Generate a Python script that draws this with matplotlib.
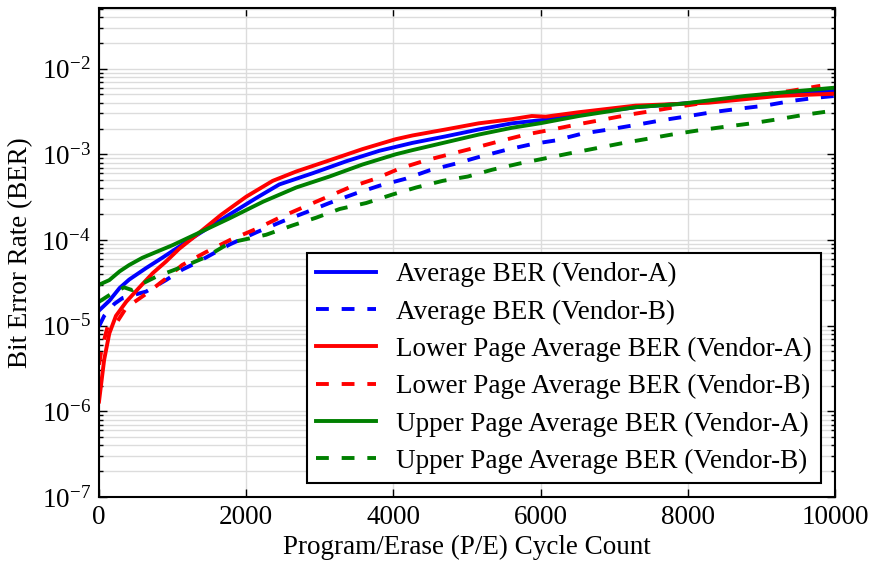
import matplotlib
matplotlib.use('Agg')
import matplotlib.pyplot as plt
from matplotlib.ticker import LogLocator, NullFormatter, MultipleLocator

plt.rcParams['font.family'] = ['Liberation Serif', 'DejaVu Serif']
plt.rcParams['mathtext.fontset'] = 'custom'
plt.rcParams['mathtext.rm'] = 'Liberation Serif'
plt.rcParams['mathtext.it'] = 'Liberation Serif:italic'
plt.rcParams['mathtext.bf'] = 'Liberation Serif:bold'

# average BER per P/E cycle count
avg_a_pe = [0, 140, 280, 410, 640, 860, 1300, 1780, 2140, 2450, 2900, 3360, 3810,
            4260, 4710, 5160, 5610, 6000, 6500, 7300, 8300, 9200, 10000]
avg_a_ber = [1.5e-5, 1.95e-5, 2.75e-5, 3.45e-5, 4.7e-5, 6.2e-5, 1.1e-4, 2.0e-4, 3.1e-4,
             4.45e-4, 6.0e-4, 8.3e-4, 1.1e-3, 1.36e-3, 1.62e-3, 1.95e-3, 2.3e-3, 2.5e-3,
             2.9e-3, 3.55e-3, 4.15e-3, 4.9e-3, 5.5e-3]

avg_b_pe = [0, 70, 210, 320, 640, 910, 1130, 1320, 1780, 2140, 2500, 2810, 3130, 3490,
            3810, 4170, 4490, 4850, 5160, 5520, 5890, 6200, 6560, 6930, 7290, 7650, 7960,
            8330, 8690, 9050, 9410, 9770, 10000]
avg_b_ber = [9.8e-6, 1.3e-5, 1.8e-5, 2.1e-5, 2.5e-5, 3.4e-5, 4.5e-5, 5.4e-5, 8.9e-5,
             1.23e-4, 1.66e-4, 2.1e-4, 2.7e-4, 3.5e-4, 4.3e-4, 5.2e-4, 6.5e-4, 7.8e-4,
             9.3e-4, 1.12e-3, 1.32e-3, 1.45e-3, 1.74e-3, 1.95e-3, 2.2e-3, 2.5e-3, 2.75e-3,
             3.1e-3, 3.4e-3, 3.7e-3, 4.2e-3, 4.6e-3, 4.8e-3]

lower_a_pe = [0, 70, 140, 230, 370, 550, 730, 910, 1090, 1300, 1660, 2000, 2360, 2680,
              3130, 3580, 4030, 4260, 4710, 5160, 5610, 5880, 6070, 6520, 7290, 8280,
              9230, 10000]
lower_a_ber = [1.3e-6, 4.0e-6, 8.1e-6, 1.3e-5, 1.9e-5, 2.8e-5, 4.1e-5, 5.6e-5, 7.9e-5,
               1.1e-4, 1.97e-4, 3.2e-4, 4.9e-4, 6.3e-4, 8.5e-4, 1.15e-3, 1.5e-3, 1.66e-3,
               1.95e-3, 2.3e-3, 2.57e-3, 2.8e-3, 2.75e-3, 3.1e-3, 3.7e-3, 4.0e-3, 4.8e-3,
               5.1e-3]

lower_b_pe = [0, 30, 120, 250, 370, 640, 910, 1130, 1450, 1780, 2140, 2450, 2770, 3090,
              3400, 3760, 4080, 4440, 4800, 5120, 5480, 5800, 6160, 6520, 6860, 7200, 7560,
              7870, 8240, 8800, 9400, 9800]
lower_b_ber = [3.5e-6, 5.0e-6, 1.0e-5, 1.12e-5, 1.62e-5, 2.35e-5, 3.55e-5, 5.1e-5, 7.2e-5,
               1.0e-4, 1.35e-4, 1.82e-4, 2.4e-4, 3.15e-4, 4.1e-4, 5.2e-4, 6.8e-4, 8.5e-4,
               1.02e-3, 1.2e-3, 1.45e-3, 1.7e-3, 1.95e-3, 2.25e-3, 2.55e-3, 2.9e-3,
               3.25e-3, 3.6e-3, 4.0e-3, 4.7e-3, 5.5e-3, 6.3e-3]

upper_a_pe = [0, 140, 280, 410, 590, 770, 1000, 1300, 1780, 2230, 2680, 3130, 3580, 4030,
              4260, 4710, 5160, 5610, 5990, 6520, 7290, 7870, 8280, 8780, 10000]
upper_a_ber = [3.0e-5, 3.4e-5, 4.3e-5, 5.1e-5, 6.2e-5, 7.2e-5, 8.7e-5, 1.15e-4, 1.8e-4,
               2.8e-4, 4.1e-4, 5.5e-4, 7.6e-4, 1.0e-3, 1.12e-3, 1.38e-3, 1.7e-3, 2.04e-3,
               2.3e-3, 2.8e-3, 3.55e-3, 3.85e-3, 4.25e-3, 4.8e-3, 6.0e-3]

upper_b_pe = [0, 150, 340, 450, 590, 770, 1000, 1220, 1450, 1780, 2270, 2630, 2950, 3270,
              3630, 3990, 4310, 4670, 5010, 5340, 5710, 6070, 6380, 6740, 7110, 7420, 7780,
              8140, 8510, 8870, 9230, 9590, 10000]
upper_b_ber = [1.9e-5, 2.3e-5, 2.8e-5, 2.6e-5, 3.1e-5, 3.7e-5, 4.4e-5, 5.2e-5, 6.3e-5,
               9.3e-5, 1.15e-4, 1.48e-4, 1.82e-4, 2.3e-4, 2.7e-4, 3.4e-4, 4.1e-4, 4.9e-4,
               5.5e-4, 6.6e-4, 7.8e-4, 9.0e-4, 1.02e-3, 1.17e-3, 1.35e-3, 1.5e-3, 1.7e-3,
               1.9e-3, 2.1e-3, 2.3e-3, 2.57e-3, 2.9e-3, 3.25e-3]

labels = ['Average BER (Vendor-A)', 'Average BER (Vendor-B)',
          'Lower Page Average BER (Vendor-A)', 'Lower Page Average BER (Vendor-B)',
          'Upper Page Average BER (Vendor-A)', 'Upper Page Average BER (Vendor-B)']

fs = 19.5

fig = plt.figure(figsize=(8.7, 5.65), dpi=100)
ax = fig.add_axes([0.1138, 0.1204, 0.846, 0.8654])

lw = 2.8
dash = (3.3, 3.3)
ax.plot(avg_a_pe, avg_a_ber, color='#0000ff', lw=lw, label=labels[0])
ax.plot(avg_b_pe, avg_b_ber, color='#0000ff', lw=lw, dashes=dash, label=labels[1])
ax.plot(lower_a_pe, lower_a_ber, color='#ff0000', lw=lw, label=labels[2])
ax.plot(lower_b_pe, lower_b_ber, color='#ff0000', lw=lw, dashes=dash, label=labels[3])
ax.plot(upper_a_pe, upper_a_ber, color='#008000', lw=lw, label=labels[4])
ax.plot(upper_b_pe, upper_b_ber, color='#008000', lw=lw, dashes=dash, label=labels[5])

ax.set_yscale('log')
ax.set_xlim(0, 10000)
ax.set_ylim(1e-7, 5.1e-2)
ax.xaxis.set_major_locator(MultipleLocator(2000))
ax.yaxis.set_major_locator(LogLocator(base=10, numticks=20))
ax.yaxis.set_minor_locator(LogLocator(base=10, subs=range(2, 10), numticks=20))
ax.yaxis.set_minor_formatter(NullFormatter())

ax.grid(True, which='major', color='#dcdcdc', lw=1.0)
ax.grid(True, which='minor', axis='y', color='#dcdcdc', lw=1.0)
ax.set_axisbelow(True)

ax.tick_params(which='both', direction='in', top=True, right=True, width=1.0,
               labelsize=fs, pad=6)
ax.tick_params(which='major', length=6)
ax.tick_params(which='minor', length=3)
for sp in ax.spines.values():
    sp.set_linewidth(1.5)

ax.set_xlabel('Program/Erase (P/E) Cycle Count', fontsize=fs, labelpad=3)
ax.set_ylabel('Bit Error Rate (BER)', fontsize=fs, labelpad=6)

leg = ax.legend(loc='lower right', fontsize=fs, fancybox=False, framealpha=1,
                edgecolor='black', handlelength=2.2, handletextpad=0.75,
                labelspacing=0.45, borderpad=0.35)
leg.get_frame().set_linewidth(1.5)

fig.savefig('out.png', dpi=100)
